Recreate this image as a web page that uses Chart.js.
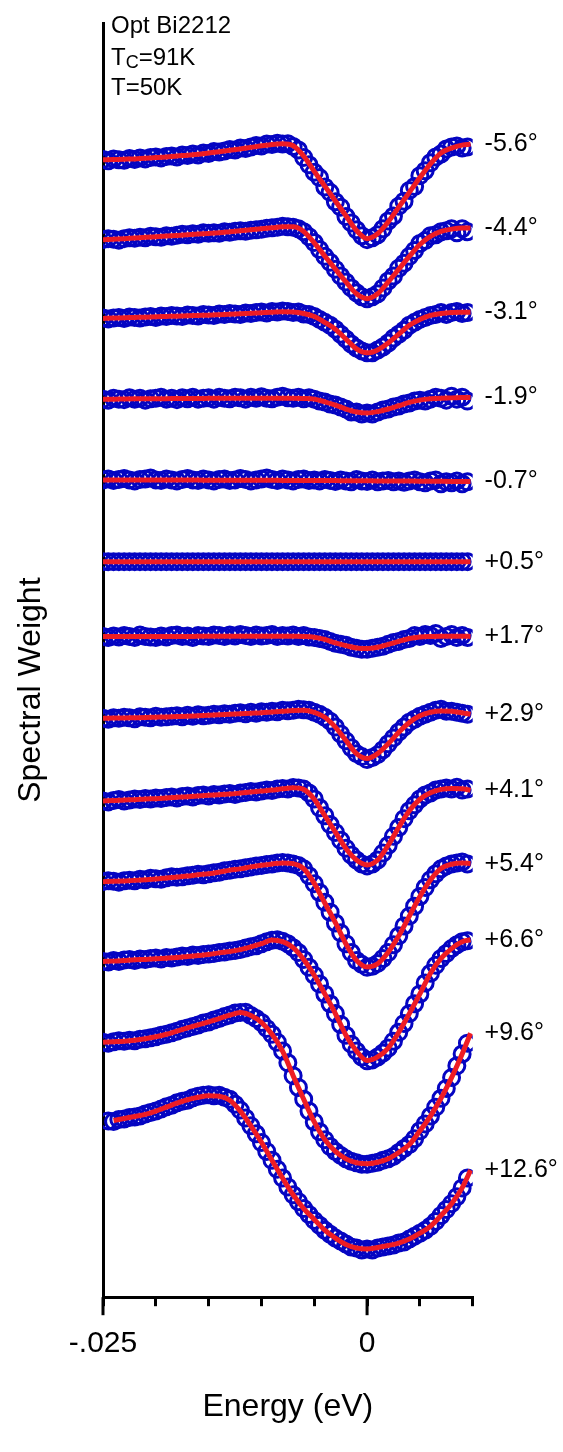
<!DOCTYPE html>
<html>
<head>
<meta charset="utf-8">
<script src="https://cdn.jsdelivr.net/npm/chart.js@4.4.1/dist/chart.umd.min.js"></script>
<style>
  html, body { margin: 0; padding: 0; background: #fff; }
  #wrap { position: relative; width: 563px; height: 1452px; }
</style>
</head>
<body>
<div id="wrap"><canvas id="chart"></canvas></div>
<script>
// ─── DATA ──────────────────────────────────────────────────────
// energy grid (eV) of the measured points and of the fitted curves
const energyData = [-0.025,-0.0245,-0.024,-0.0235,-0.023,-0.0225,-0.022,-0.0215,-0.021,-0.0205,
  -0.02,-0.0195,-0.019,-0.0185,-0.018,-0.0175,-0.017,-0.0165,-0.016,-0.0155,
  -0.015,-0.0145,-0.014,-0.0135,-0.013,-0.0125,-0.012,-0.0115,-0.011,-0.0105,
  -0.01,-0.0095,-0.009,-0.0085,-0.008,-0.0075,-0.007,-0.0065,-0.006,-0.0055,
  -0.005,-0.0045,-0.004,-0.0035,-0.003,-0.0025,-0.002,-0.0015,-0.001,-0.0005,
  0,0.0005,0.001,0.0015,0.002,0.0025,0.003,0.0035,0.004,0.0045,
  0.005,0.0055,0.006,0.0065,0.007,0.0075,0.008,0.0085,0.009,0.0095];
const energyFit = [-0.025,-0.024,-0.023,-0.022,-0.021,-0.02,-0.019,-0.018,-0.017,-0.016,
  -0.015,-0.014,-0.013,-0.012,-0.011,-0.01,-0.009,-0.008,-0.007,-0.006,
  -0.005,-0.004,-0.003,-0.002,-0.001,0,0.001,0.002,0.003,0.004,
  0.005,0.006,0.007,0.008,0.009,0.0098];

const angleLabels = ['-5.6°','-4.4°','-3.1°','-1.9°','-0.7°','+0.5°','+1.7°','+2.9°','+4.1°','+5.4°','+6.6°','+9.6°','+12.6°'];
// waterfall offset of each spectrum (arb. units)
const offsets = [1155, 1074, 994, 912, 830, 747, 671, 588, 504, 422, 341, 259, 179];

// measured spectral weight (relative to each spectrum's offset)
const data_m5_6 = [0.5,-1,1,0,-0.5,1.5,0.5,2,1,2.5,3,2,3.5,4,3,5,4.5,6,5,7,6.5,8.5,8,9,10.5,10,12,11.5,13,14.5,14,16,15.5,17,16,16.5,13.5,10,2.5,-5,-12.5,-18,-27.5,-33,-42.5,-48,-57.5,-64,-71,-77,-81,-79,-76,-70,-62,-57,-47,-42,-31,-27,-16,-11,-3,3,6,11,13,14,12,13];
const data_m4_4 = [0,1,0.5,-0.5,1,2,1.5,2.5,2,3.5,3,2.5,4,3.5,4.5,5.5,5,6,5.5,7,6.5,7,6.5,8,7.5,8.5,9,8.5,9.5,10,10.5,11.5,12,12.5,13.5,13,12.5,11,8,3,-3,-10,-17,-23,-30,-37,-43,-49,-54,-58,-60,-58,-55,-49,-42,-37,-29,-24,-17,-11,-4,-1,4,5,8,9,11,7,11,8];
const data_m3_1 = [0.5,-0.5,0.5,1,0,1.5,1,0.5,1.5,2,1,2.5,2,3,2.5,2,3.5,3,2.5,4,3.5,3,4.5,4,5,4.5,4,5.5,5,6,6.5,5.5,7,6.5,7.5,7,6,6.5,4.5,4,2,-1,-4,-7,-11,-16,-21,-26,-30,-33,-35,-35,-32,-29,-25,-20,-16,-12,-7,-4,-1,1,3,4,6,4,6,7,5,6];
const data_m1_9 = [0,-1,1,0,-0.5,1.5,0,1,-1,0.5,1,2,0,1,-0.5,1.5,0.5,2,0,1,1.5,0,2,1,0.5,2,1.5,0,2,1,2.5,1,0.5,2,3,1.5,1,2,0.5,1.5,0,-2,-3,-5,-6,-8,-10,-13,-13,-15,-14,-15,-13,-11,-10,-8,-7,-5,-4,-2,-1,-2,0,2,1,-1,3,0,2,-2];
const data_m0_7 = [0,1,-0.5,0.5,1.5,0,-1,0.5,1,2,0,-0.5,1,0,-1,0.5,1.5,0,-0.5,1,0,-1,0.5,1,-0.5,0,1.5,0.5,-1,0,1,2,0.5,-0.5,1,0,-1,0.5,1,-0.5,0,-1,0.5,-0.5,-1.5,0,-1,-2,0.5,-1,-1.5,0,-2,-1,-0.5,-2,-1,-2.5,-1,0,-2,-3,-1,0,-4,-2,-3,-1,-4,-2];
const data_p0_5 = [0,0,0,0,0,0,0,0,0,0,0,0,0,0,0,0,0,0,0,0,0,0,0,0,0,0,0,0,0,0,0,0,0,0,0,0,0,0,0,0,0,0,0,0,0,0,0,0,0,0,0,0,0,0,0,0,0,0,0,0,0,0,0,0,0,0,0,0,0,0];
const data_p1_7 = [0,-1,0.5,-0.5,1,0,-1,1.5,0,-0.5,-1,0.5,-0.5,1,1.5,0,0.5,-1,1,0.5,0,1.5,1,0,1.5,0.5,2,1,0,1.5,0.5,1,2,0,1,0.5,1.5,0,1,-0.5,-1,-2,-3,-5,-7,-8,-9,-11,-12,-13,-13,-12,-11,-10,-8,-6,-5,-3,-2,1,0,2,1,3,-2,0,2,-1,1,-1];
const data_p2_9 = [0,-1,0.5,0,1,0.5,-0.5,1.5,1,0.5,2,1,1.5,2,2.5,1.5,3,2,3.5,2.5,3,4,3.5,4.5,4,5,5.5,4.5,6,5,6.5,6,7,6.5,8,7.5,8,9,8.5,8,6,4,1,-3,-9,-16,-23,-30,-36,-39,-42,-40,-37,-32,-26,-20,-14,-9,-4,-1,2,4,6,8,9,7,7,6,5,4];
const data_p4_1 = [0,-1,0.5,1.5,0,1,2,1.5,2.5,2,3,2.5,3.5,4,3,4.5,5,4,5.5,6,5,6.5,6,7,7.5,6.5,8,8.5,9.5,9,10,11,10.5,12,12.5,12,13.5,13,12,8,2,-7,-15,-24,-32,-40,-48,-55,-60,-64,-66,-64,-60,-53,-45,-36,-27,-18,-10,-4,2,6,8,11,12,13,12,14,11,12];
const data_p5_4 = [0,1,0.5,-0.5,1,1.5,1,2.5,2,3.5,3,2.5,4,5,4.5,5,6,6.5,7.5,7,8,9,9.5,11,11.5,12.5,13,14,15,16,16.5,17.5,18,19,19.5,19,18,16.5,13,6,-2,-11,-21,-31,-42,-52,-63,-72,-80,-84,-87,-86,-83,-78,-72,-64,-55,-45,-35,-25,-15,-6,2,8,13,16,18,19,20,18];
const data_p6_6 = [0,-0.5,1,0,1.5,2,1,2.5,2,3,3.5,2.5,4,3.5,4.5,5.5,5,6.5,6,7,7.5,8,9,9.5,10.5,11,12,13.5,15,16,18,20,21.5,22,20.5,18,14,9,2,-6,-14,-23,-33,-43,-53,-64,-75,-84,-91,-97,-101,-100,-97,-93,-88,-81,-72,-63,-53,-43,-33,-22,-12,-4,3,8,13,17,20,21];
const data_p9_6 = [0,-1,0.5,1.5,1,2,1.5,3,3.5,4.5,5.5,7,8,9.5,11,13,14.5,16,17.5,19.5,20.5,22.5,24,26,27.5,29.5,30,30.5,27,24,20,14,8,0,-9,-21,-34,-46,-58,-70,-81,-91,-99,-106,-111,-115,-118.5,-121,-122.5,-124,-124,-123,-122,-120,-118.5,-116,-112,-108,-104,-98,-90,-83,-75,-66,-57,-47,-36,-24,-12,-1];
const data_p12_6 = [null,0,-0.5,1.5,2,3.5,4,5,7,8.5,10,12,14.5,16,18.5,20,21,23.5,25,26,26.5,25.5,26,24,22,17,11,3,-5,-13,-22,-31,-40,-49,-58,-67,-75,-82,-89,-95,-101,-106,-111,-115,-119,-122,-125,-128,-129,-131,-130,-131,-129,-128,-127,-126,-124,-123,-120,-117,-114,-111,-107,-102,-96,-90,-84,-77,-68,-58];

// fitted curves (same offsets)
const fit_m5_6 = [0,0.3,0.7,1,1.7,2.3,3,4,4.7,5.7,7,8.3,9.7,11,12.7,14.3,15.7,16.3,14.3,3.8,-11.7,-26.7,-41.7,-56.7,-71.7,-80,-75,-63,-48,-33,-18,-4,7,12,15,16];
const fit_m4_4 = [0,0.5,1,1.7,2.3,3,3.7,4.3,5,5.7,6.3,7,8,9,10,11,12,13,13,8.3,-3.3,-16.7,-30,-43,-55,-60,-55,-43,-30,-17,-5,3.3,8.3,10.7,11.7,11.7];
const fit_m3_1 = [0,0.3,0.7,1,1.3,1.7,2,2.3,2.7,3,3.3,3.8,4.3,4.8,5.3,5.8,6.3,6.7,6.5,5,2,-4,-11,-21,-31,-35,-32,-25,-16,-7,-1,3,5,6,6.3,6.3];
const fit_m1_9 = [0,0,0.2,0.3,0.3,0.5,0.5,0.7,0.7,0.7,0.8,0.8,1,1,1,1,1,1,1,0.7,0,-2.7,-6,-10,-13,-14,-12.7,-10,-6.7,-3.3,-1,0.3,1,1.3,1.7,1.7];
const fit_m0_7 = [0,0,0,0,0,-0.1,-0.1,-0.2,-0.2,-0.2,-0.3,-0.3,-0.3,-0.3,-0.4,-0.4,-0.4,-0.5,-0.5,-0.6,-0.6,-0.7,-0.7,-0.8,-0.8,-0.9,-1,-1,-1.1,-1.2,-1.3,-1.3,-1.4,-1.5,-1.6,-1.7];
const fit_p0_5 = [0,0,0,0,0,0,0,0,0,0,0,0,0,0,0,0,0,0,0,0,0,0,0,0,0,0,0,0,0,0,0,0,0,0,0,0];
const fit_p1_7 = [0,0,0,0,0,0,0,0,0,0.1,0.1,0.2,0.2,0.3,0.3,0.3,0.3,0.3,0.2,0,-0.7,-3,-6.5,-9.3,-11.7,-12.3,-11,-8,-5,-2,-0.5,0,0.3,0.3,0.3,0];
const fit_p2_9 = [0,0.2,0.3,0.5,0.7,1,1.3,1.7,2,2.5,3,3.5,4,4.5,5,5.5,6.3,7,7.7,8,6,1,-9,-22.7,-36,-41,-36,-26,-14.3,-4.3,2.5,6,7.3,7,5.5,4];
const fit_p4_1 = [0,0.3,1,1.3,2,2.3,3,3.7,4.3,5,5.7,6.3,7,8,9,10,11,12.3,13.3,11.7,1.7,-15,-31.7,-48.3,-60,-65,-60,-45,-26.7,-10,1.7,8.3,11.7,12.7,12.3,10.7];
const fit_p5_4 = [0,0.3,0.7,1.3,2,2.7,3.7,4.7,5.7,7,8,9.7,11.7,13,15,16.7,18,19,18.3,13.3,-1.7,-21.7,-41.7,-63.3,-80,-86.7,-83.3,-71.7,-55,-35,-15,1.7,13.3,17.7,19,18.3];
const fit_p6_6 = [0,0.3,1,1.7,2,2.7,3.3,4,5,6,7,8.7,10,12,14.7,18,21.7,20,14,2,-14,-33,-53,-75,-91,-100.7,-97,-88,-72,-53,-33,-12,3,13,20,22];
const fit_p9_6 = [0,0.5,1,2,3.5,5.5,8,11.3,14.5,17.5,20.7,24,27.5,30,27,20,8,-9,-34,-58,-81,-99,-111,-118.5,-122.5,-123.5,-122,-118.5,-112,-104,-90,-75,-57,-36,-12,9];
const fit_p12_6 = [null,0.5,2.5,4.5,6.7,10,14,18,21.5,24,25.5,25,21,10,-5,-21.7,-40,-58,-75,-89,-100,-111,-119,-125.5,-129,-130,-128.5,-126.5,-124,-120,-114,-107,-96,-84,-68,-50];

const xTickLabels = { '-0.025': '-.025', '0': '0' };
const majorTickValues = [-0.025, 0];
const headerLines = ['Opt Bi2212', 'T=91K', 'T=50K'];
const yTitle = 'Spectral Weight';

const dataSeries = [data_m5_6, data_m4_4, data_m3_1, data_m1_9, data_m0_7, data_p0_5, data_p1_7,
  data_p2_9, data_p4_1, data_p5_4, data_p6_6, data_p9_6, data_p12_6];
const fitSeries = [fit_m5_6, fit_m4_4, fit_m3_1, fit_m1_9, fit_m0_7, fit_p0_5, fit_p1_7,
  fit_p2_9, fit_p4_1, fit_p5_4, fit_p6_6, fit_p9_6, fit_p12_6];

// ─── CHART ─────────────────────────────────────────────────────
const FONT = "'Liberation Sans', Arial, sans-serif";
const BLUE = '#0505c2';
const RED = '#ee1c24';
Chart.defaults.font.family = FONT;
Chart.defaults.color = '#000';

function toPoints(xs, ys, off) {
  const pts = [];
  ys.forEach((v, k) => { if (v !== null) pts.push({ x: xs[k], y: off + v }); });
  return pts;
}

const datasets = [];
angleLabels.forEach((lab, i) => {
  datasets.push({
    type: 'scatter',
    label: lab + ' data',
    data: toPoints(energyData, dataSeries[i], offsets[i]),
    pointStyle: 'circle',
    pointRadius: 8,
    pointBorderWidth: 3,
    pointBorderColor: BLUE,
    pointBackgroundColor: 'rgba(0,0,0,0)',
    showLine: false,
    order: 2,
  });
  datasets.push({
    type: 'line',
    label: lab + ' fit',
    data: toPoints(energyFit, fitSeries[i], offsets[i]),
    borderColor: RED,
    borderWidth: 5,
    pointRadius: 0,
    tension: 0.4,
    cubicInterpolationMode: 'monotone',
    fill: false,
    order: 1,
  });
});

// longer tick marks at the labelled energies
const majorTicks = {
  id: 'majorTicks',
  afterDraw(chart) {
    const xs = chart.scales.x;
    const ctx = chart.ctx;
    ctx.save();
    ctx.strokeStyle = '#000';
    ctx.lineWidth = 3;
    majorTickValues.forEach(v => {
      const px = xs.getPixelForValue(v);
      ctx.beginPath();
      ctx.moveTo(px, xs.top);
      ctx.lineTo(px, xs.top + 18);
      ctx.stroke();
    });
    ctx.restore();
  },
};

// angle labels at the right end of each fit, sample header, y title
const textLabels = {
  id: 'textLabels',
  afterDraw(chart) {
    const { ctx, chartArea } = chart;
    const xs = chart.scales.x, ys = chart.scales.y;
    ctx.save();
    ctx.fillStyle = '#000';
    ctx.font = '25px ' + FONT;
    ctx.textBaseline = 'middle';
    ctx.textAlign = 'left';
    const lastE = energyFit[energyFit.length - 1];
    angleLabels.forEach((lab, i) => {
      const f = fitSeries[i];
      const px = xs.getPixelForValue(lastE) + 14;
      const py = ys.getPixelForValue(offsets[i] + f[f.length - 1]);
      ctx.fillText(lab, px, py);
    });

    // header block
    ctx.font = '24px ' + FONT;
    ctx.textBaseline = 'alphabetic';
    const x0 = chartArea.left + 8;
    ctx.fillText(headerLines[0], x0, chartArea.top + 10);
    let x = x0;
    const y2 = chartArea.top + 42;
    ctx.fillText('T', x, y2);
    x += ctx.measureText('T').width;
    ctx.font = '18px ' + FONT;
    ctx.fillText('C', x, y2 + 3);
    x += ctx.measureText('C').width;
    ctx.font = '24px ' + FONT;
    ctx.fillText(headerLines[1].slice(1), x, y2);
    ctx.fillText(headerLines[2], x0, chartArea.top + 72);

    // vertical axis title
    ctx.translate(31, (chartArea.top + chartArea.bottom) / 2 + 30);
    ctx.rotate(-Math.PI / 2);
    ctx.font = '32px ' + FONT;
    ctx.textAlign = 'center';
    ctx.textBaseline = 'middle';
    ctx.fillText(yTitle, 0, 0);
    ctx.restore();
  },
};

new Chart(document.getElementById('chart'), {
  data: { datasets },
  options: {
    responsive: true,
    maintainAspectRatio: false,
    animation: false,
    layout: { padding: { top: 23, right: 90.3, left: 103, bottom: 25.8 } },
    plugins: { legend: { display: false }, tooltip: { enabled: false } },
    scales: {
      x: {
        type: 'linear',
        min: -0.025,
        max: 0.01,
        grid: { drawOnChartArea: false, drawTicks: true, tickLength: 9, lineWidth: 3, tickWidth: 3, color: '#000', tickColor: '#000' },
        border: { display: true, color: '#000', width: 3 },
        ticks: {
          stepSize: 0.005,
          autoSkip: false,
          maxRotation: 0,
          padding: 19.8,
          font: { size: 30 },
          color: '#000',
          callback: (v) => {
            for (const k in xTickLabels) if (Math.abs(v - Number(k)) < 1e-9) return xTickLabels[k];
            return '';
          },
        },
        title: { display: true, text: 'Energy (eV)', font: { size: 32 }, color: '#000', padding: { top: 6, bottom: 0 } },
      },
      y: {
        type: 'linear',
        min: 0,
        max: 1294,
        grid: { display: false, drawTicks: false },
        border: { display: true, color: '#000', width: 3 },
        ticks: { display: false },
        title: { display: false },
      },
    },
  },
  plugins: [majorTicks, textLabels],
});
</script>
</body>
</html>
